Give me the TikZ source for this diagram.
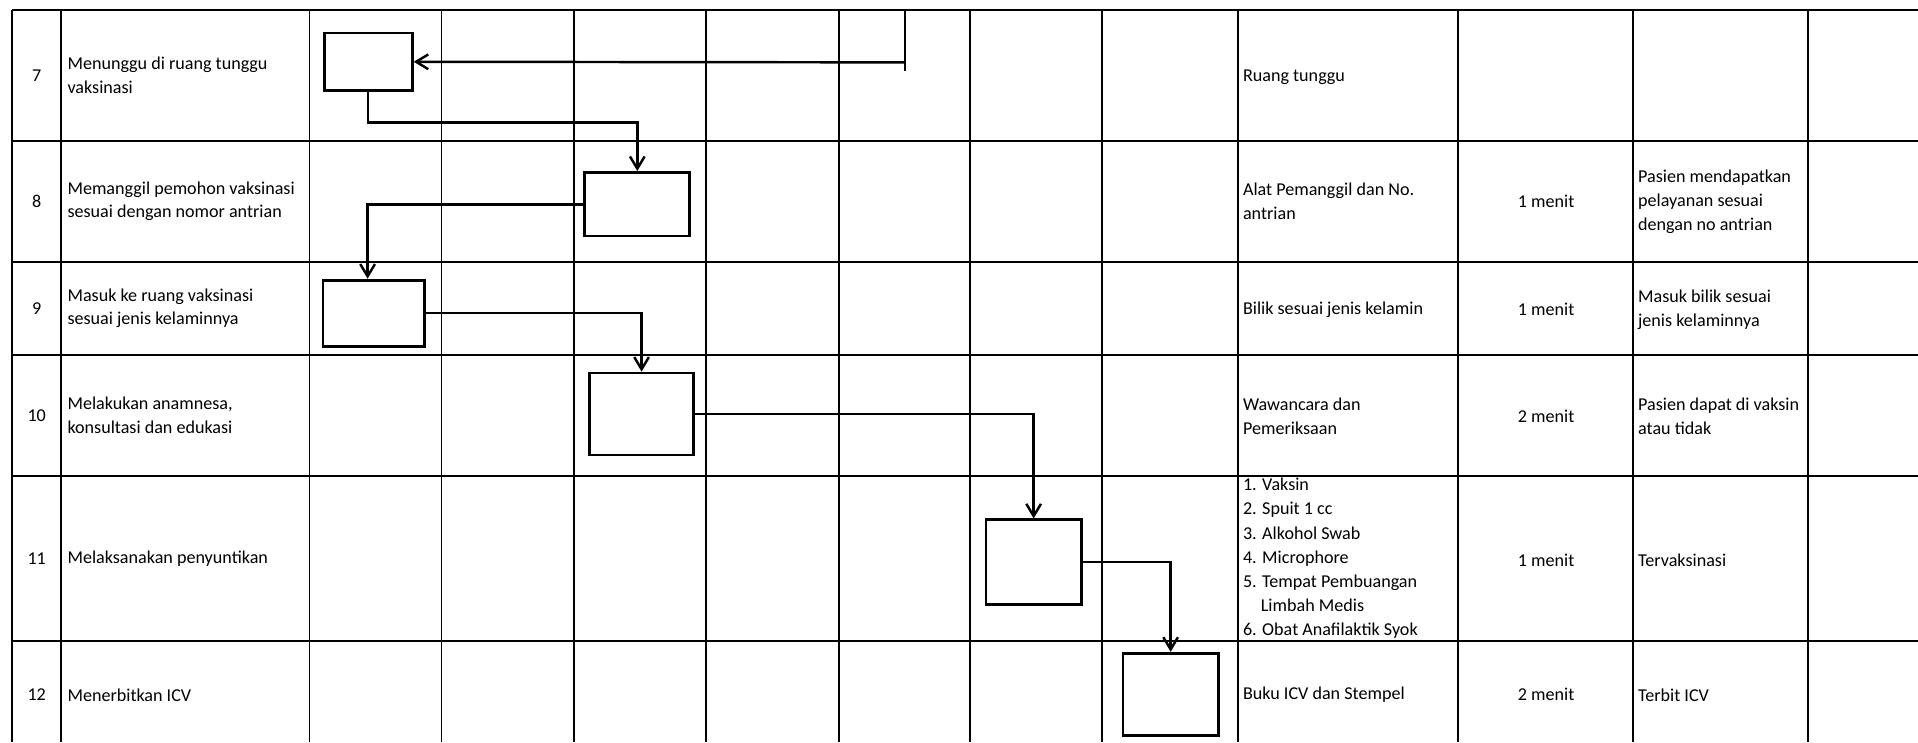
\documentclass[tikz,border=0pt]{standalone}
\usepackage{fontspec}
\setmainfont{Carlito}
\usetikzlibrary{arrows.meta,positioning}

\begin{document}
\begin{tikzpicture}[x=1pt,y=-1pt,
  grid/.style={line width=1.4pt},
  box/.style={draw,line width=2.3pt,inner sep=0pt},
  flow/.style={line width=2pt,-{Straight Barb[length=10pt,width=12pt,line width=2pt]}},
  stub/.style={line width=2pt},
  bigtxt/.style={inner sep=0pt,font=\fontsize{14.8}{19}\selectfont},
  smalltxt/.style={inner sep=0pt,font=\fontsize{14.8}{19.8}\selectfont},
  lefttxt/.style={anchor=west,align=left}]
  \useasboundingbox (0,0) rectangle (1568,607);
  % table
  \foreach \y in {8,115,214,290,389,524}
    \draw[grid] (10,\y) -- (1568,\y);
  \foreach \x in {10,50,253,361,469,577,686,793,901,1012,1192,1335,1478}
    \draw[grid] (\x,8) -- (\x,607);
  % step numbers and activities
  \node[bigtxt] (no7) at (30,61.5) {7};
  \node[bigtxt] (no8) at (30,164.5) {8};
  \node[bigtxt] (no9) at (30,252) {9};
  \node[bigtxt] (no10) at (30,339.5) {10};
  \node[bigtxt] (no11) at (30,456.5) {11};
  \node[bigtxt] (no12) at (30,568) {12};
  \node[bigtxt,lefttxt] (act7) at (55,61.5) {Menunggu di ruang tunggu\\vaksinasi};
  \node[bigtxt,lefttxt] (act8) at (55,164.5) {Memanggil pemohon vaksinasi\\sesuai dengan nomor antrian};
  \node[bigtxt,lefttxt] (act9) at (55,252) {Masuk ke ruang vaksinasi\\sesuai jenis kelaminnya};
  \node[bigtxt,lefttxt] (act10) at (55,339.5) {Melakukan anamnesa,\\konsultasi dan edukasi};
  \node[bigtxt,lefttxt] (act11) at (55,456.5) {Melaksanakan penyuntikan};
  \node[bigtxt,lefttxt] (act12) at (55,568) {Menerbitkan ICV};
  % equipment
  \node[smalltxt,lefttxt] (alat7) at (1016,63) {Ruang tunggu};
  \node[smalltxt,lefttxt] (alat8) at (1016,164.5) {Alat Pemanggil dan No.\\antrian};
  \node[smalltxt,lefttxt] (alat9) at (1016,253) {Bilik sesuai jenis kelamin};
  \node[smalltxt,lefttxt] (alat10) at (1016,340) {Wawancara dan\\Pemeriksaan};
  \node[smalltxt,lefttxt] (alat11) at (1016,456.5) {1. Vaksin\\2. Spuit 1 cc\\3. Alkohol Swab\\4. Microphore\\5. Tempat Pembuangan\\\phantom{5.\ }Limbah Medis\\6. Obat Anafilaktik Syok};
  \node[smalltxt,lefttxt] (alat12) at (1016,568) {Buku ICV dan Stempel};
  % time
  \node[smalltxt] (time8) at (1264,165) {1 menit};
  \node[smalltxt] (time9) at (1264,253) {1 menit};
  \node[smalltxt] (time10) at (1264,340) {2 menit};
  \node[smalltxt] (time11) at (1264,458) {1 menit};
  \node[smalltxt] (time12) at (1264,568) {2 menit};
  % output
  \node[smalltxt,lefttxt] (out8) at (1339,165) {Pasien mendapatkan\\pelayanan sesuai\\dengan no antrian};
  \node[smalltxt,lefttxt] (out9) at (1339,253) {Masuk bilik sesuai\\jenis kelaminnya};
  \node[smalltxt,lefttxt] (out10) at (1339,340) {Pasien dapat di vaksin\\atau tidak};
  \node[smalltxt,lefttxt] (out11) at (1339,458) {Tervaksinasi};
  \node[smalltxt,lefttxt] (out12) at (1339,568) {Terbit ICV};
  % flow boxes
  \node[box,minimum width=72,minimum height=47] (b7) at (301,50.5) {};
  \node[box,minimum width=86,minimum height=52] (b8) at (521,167) {};
  \node[box,minimum width=83,minimum height=54] (b9) at (305.5,256) {};
  \node[box,minimum width=85,minimum height=67] (b10) at (524.5,338.5) {};
  \node[box,minimum width=78,minimum height=69] (b11) at (845,459.5) {};
  \node[box,minimum width=78,minimum height=67] (b12) at (957,567.5) {};
  % connectors
  \coordinate (top7) at (740,8);
  \coordinate (in7) at (740,51);
  \draw[stub] (top7) -- ++(0,50);
  \draw[flow] (in7) -- (b7.east);
  \draw[flow] (b7.south) -- ++(0,25) -| (b8.north);
  \draw[flow] (b8.west) -| ([xshift=-5pt]b9.north);
  \draw[flow] (b9.east) -| (b10.north);
  \draw[flow] (b10.east) -| (b11.north);
  \draw[flow] (b11.east) -| (b12.north);
\end{tikzpicture}
\end{document}
